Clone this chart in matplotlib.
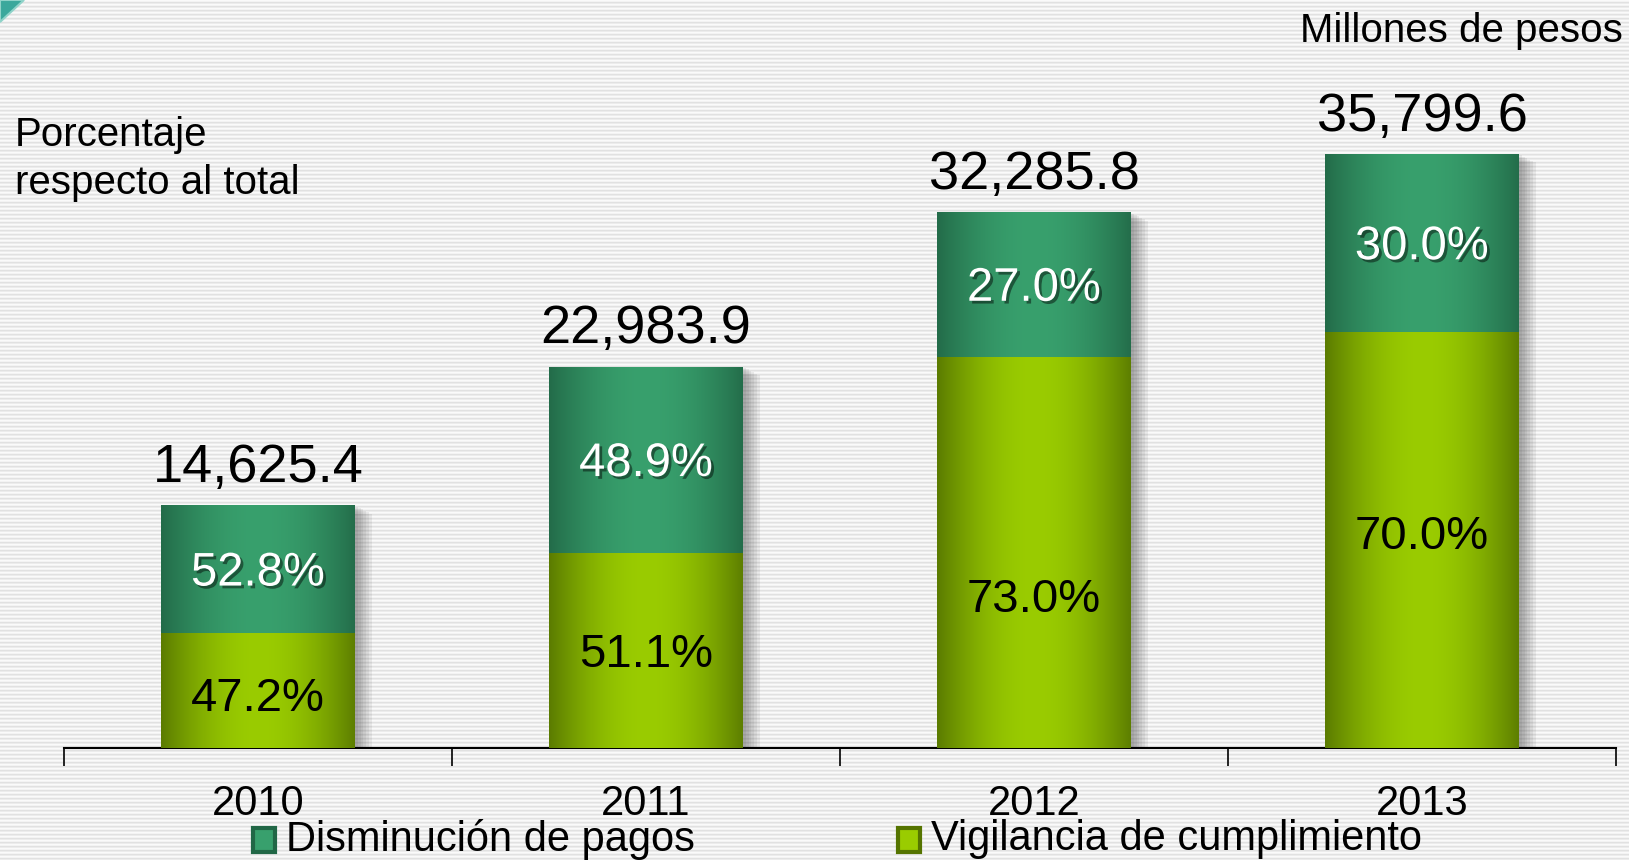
import numpy as np
import matplotlib
matplotlib.use("Agg")
import matplotlib.pyplot as plt
import matplotlib.patheffects as pe
from matplotlib.patches import Polygon, Rectangle
from matplotlib.colors import to_rgb

# data (millones de pesos, % del total)
years = ["2010", "2011", "2012", "2013"]
totals = [14625.4, 22983.9, 32285.8, 35799.6]
pct_disminucion = [52.8, 48.9, 27.0, 30.0]
pct_vigilancia = [47.2, 51.1, 73.0, 70.0]

label_dis = "Disminución de pagos"
label_vig = "Vigilancia de cumplimiento"

# colors (edge of bar, middle of bar)
DIS_EDGE, DIS_MID = "#216746", "#38a06d"
VIG_EDGE, VIG_MID = "#557400", "#9acc00"

# vertical nudge (points) for the lower labels
vig_nudge = [-6, -3, -34, 2]

plt.rcParams["font.family"] = ["Liberation Sans", "DejaVu Sans"]

W, H = 1629, 860
fig = plt.figure(figsize=(W / 100, H / 100), dpi=100)

# striped background
bg = fig.add_axes([0, 0, 1, 1])
pattern = np.array([0.98, 0.955, 0.88, 0.925])
stripes = np.tile(pattern, H // 4 + 1)[:H]
bg.imshow(np.repeat(stripes[:, None], 4, axis=1), cmap="gray", vmin=0, vmax=1,
          aspect="auto", interpolation="nearest", extent=[0, 1, 0, 1])
bg.set_axis_off()
# small teal corner ornament
fig.patches.append(Polygon([[0, 1], [24 / W, 1], [0, 1 - 22 / H]], closed=True,
                           transform=fig.transFigure, facecolor="#3aa89c",
                           edgecolor="#8fd3c9", linewidth=1.5, zorder=1))

ax = fig.add_axes([64 / W, (H - 748) / H, 1552 / W, 748 / H])
ax.patch.set_alpha(0)

x = np.arange(len(years))
vig = np.array(totals) * np.array(pct_vigilancia) / 100
dis = np.array(totals) * np.array(pct_disminucion) / 100

shadow = [pe.SimplePatchShadow(offset=(o, -o * 0.5), shadow_rgbFace="#444444", alpha=0.09)
          for o in range(2, 13, 2)] + [pe.Normal()]

bars_vig = ax.bar(x, vig, width=0.5, color=VIG_MID, zorder=2, path_effects=shadow)
bars_dis = ax.bar(x, dis, bottom=vig, width=0.5, color=DIS_MID, zorder=2, path_effects=shadow)


def gradient(edge, mid, n=200):
    t = np.linspace(0, 1, n)
    w = np.clip(np.sin(np.pi * (t * 0.95 + 0.02)), 0, 1) ** 0.9
    e, m = np.array(to_rgb(edge)), np.array(to_rgb(mid))
    row = e[None, :] * (1 - w[:, None]) + m[None, :] * w[:, None]
    return row[None, :, :]


for bars, (edge, mid) in [(bars_vig, (VIG_EDGE, VIG_MID)), (bars_dis, (DIS_EDGE, DIS_MID))]:
    img = gradient(edge, mid)
    for b in bars:
        x0, y0 = b.get_x(), b.get_y()
        im = ax.imshow(img, extent=[x0, x0 + b.get_width(), y0, y0 + b.get_height()],
                       aspect="auto", interpolation="bilinear", zorder=3)
        im.set_clip_path(b)

ax.set_xlim(-0.5, len(years) - 0.5)
ax.set_ylim(0, max(totals) * 748 / 594)

# percentage labels inside the segments, totals on top
txt_shadow = [pe.withSimplePatchShadow(offset=(2, -2), shadow_rgbFace="black", alpha=0.45)]
for i in range(len(years)):
    ax.annotate(f"{pct_vigilancia[i]:.1f}%", (x[i], vig[i] / 2), xytext=(0, vig_nudge[i]),
                textcoords="offset points", ha="center", va="center",
                fontsize=34, color="black", zorder=5)
    ax.annotate(f"{pct_disminucion[i]:.1f}%", (x[i], vig[i] + dis[i] / 2), xytext=(0, -3),
                textcoords="offset points", ha="center", va="center",
                fontsize=34, color="white", zorder=5, path_effects=txt_shadow)
    ax.annotate(f"{totals[i]:,.1f}", (x[i], totals[i]), xytext=(0, 27),
                textcoords="offset points", ha="center", va="center",
                fontsize=39, color="black", zorder=5)

# axis: baseline with ticks between categories
for s in ["top", "right", "left"]:
    ax.spines[s].set_visible(False)
ax.spines["bottom"].set_linewidth(1.5)
ax.set_yticks([])
ax.set_xticks(np.arange(-0.5, len(years)))
ax.set_xticklabels([])
ax.tick_params(axis="x", direction="out", length=13, width=1.2)
for i, yr in enumerate(years):
    ax.annotate(yr, (x[i], 0), xytext=(0, -40), textcoords="offset points",
                ha="center", va="center", fontsize=30)

fig.text(1623 / W, 1 - 31 / H, "Millones de pesos", ha="right", va="center", fontsize=29)
fig.text(15 / W, 1 - 159 / H, "Porcentaje\nrespecto al total", ha="left", va="center",
         fontsize=29, linespacing=1.3)

# legend
leg_items = [(253, DIS_MID, DIS_EDGE, label_dis), (898, VIG_MID, VIG_EDGE, label_vig)]
for px, mid, edge, lab in leg_items:
    fig.patches.append(Rectangle((px / W, 1 - 852 / H), 22 / W, 24 / H,
                                 transform=fig.transFigure, facecolor=mid,
                                 edgecolor=edge, linewidth=3, zorder=4))
    fig.text((px + 33) / W, 1 - 839 / H, lab, ha="left", va="center", fontsize=30)

fig.savefig("out.png", dpi=100)
